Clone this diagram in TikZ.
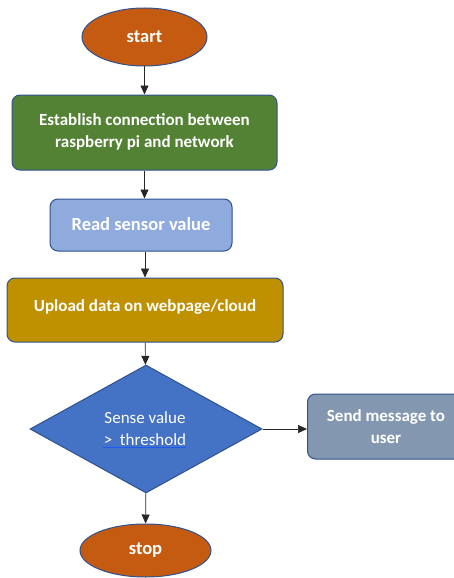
\documentclass[tikz,border=0pt]{standalone}
\usepackage{fontspec}
\setmainfont{Carlito}
\usetikzlibrary{shapes.geometric,arrows.meta}
\definecolor{edgeblue}{HTML}{2F528F}
\definecolor{termfill}{HTML}{C55A11}
\definecolor{greenfill}{HTML}{548235}
\definecolor{lightblue}{HTML}{8FAADC}
\definecolor{goldfill}{HTML}{BF9000}
\definecolor{diafill}{HTML}{4472C4}
\definecolor{greyblue}{HTML}{8497B0}
\definecolor{ulblue}{HTML}{1F58F0}
\tikzset{
  base/.style={draw=edgeblue, line width=1pt, text=white, font=\fontsize{17}{22}\selectfont\bfseries, align=center, inner sep=0pt},
  term/.style={base, ellipse, fill=termfill, font=\fontsize{18.5}{22}\selectfont\bfseries},
  procbox/.style={base, rectangle, rounded corners=8pt},
  decide/.style={base, diamond, fill=diafill},
  conn/.style={draw=black!85, line width=0.7pt, -{Triangle[length=9pt,width=8pt]}}
}
\begin{document}
\begin{tikzpicture}[x=1pt,y=-1pt]
\useasboundingbox (0,0) rectangle (454,578);
\node[term, minimum width=125pt, minimum height=58pt] (start) at (144.5,37) {start};
\node[procbox, fill=greenfill, minimum width=265pt, minimum height=75pt] (conn) at (144.5,132.5) {\raisebox{3pt}{\begin{tabular}{@{}c@{}}Establish connection between\\[0pt]raspberry pi and network\end{tabular}}};
\node[procbox, fill=lightblue, minimum width=182pt, minimum height=52pt, font=\fontsize{18.5}{22}\selectfont\bfseries] (read) at (141,225) {\raisebox{2pt}{Read sensor value}};
\node[procbox, fill=goldfill, minimum width=276pt, minimum height=64pt] (upload) at (145,310) {\raisebox{8pt}{Upload data on webpage/cloud}};
\node[decide, minimum width=232pt, minimum height=128pt, aspect=1.8125] (dec) at (146,429) {};
\node[text=white, font=\fontsize{17}{22}\selectfont, align=center, inner sep=0pt] (dectext) at (145,428.5) {Sense value\\{>}\ \ threshold};
\coordinate (ulA) at (103,447.5);
\coordinate (ulB) at (186,447.5);
\draw[ulblue, line width=1.2pt] (ulA) -- (ulB);
\node[procbox, fill=greyblue, minimum width=160pt, minimum height=65pt, anchor=west] (send) at (307,426.5) {\hspace*{-1.5pt}Send message to\hspace*{1.5pt}\\\hspace*{-1.5pt}user\hspace*{1.5pt}};
\node[term, minimum width=131pt, minimum height=53pt] (stop) at (145.5,550.5) {stop};
\draw[conn] (start) -- (conn);
\draw[conn] (conn.south) -- (read.north -| conn.south);
\draw[conn] (read.south) ++(4pt,0) coordinate (r1) -- (r1 |- upload.north);
\draw[conn] (upload) -- (dec);
\draw[conn] (dec.east) -- (send.west |- dec.east);
\draw[conn] (dec) -- (stop);
\end{tikzpicture}
\end{document}
